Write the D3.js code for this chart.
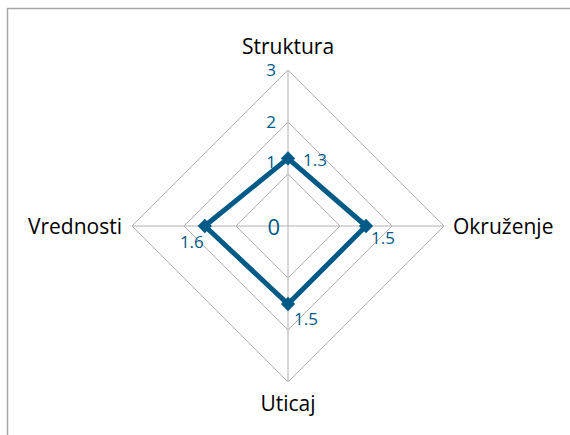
<!DOCTYPE html>
<html>
<head>
<meta charset="utf-8">
<script src="https://cdn.jsdelivr.net/npm/d3@7"></script>
<style>
  body { margin: 0; background: #fff; }
  svg { display: block; font-family: "Open Sans", sans-serif; }
</style>
</head>
<body>
<div id="chart"></div>
<script>
// radar chart data
const categories = ["Struktura", "Okruženje", "Uticaj", "Vrednosti"];
const values = [1.3, 1.5, 1.5, 1.6];
const ticks = [0, 1, 2, 3];

const width = 570;
const height = 435;
const cx = 288, cy = 226;
const radius = 156;
const blue = "#005a87";
const gridColor = "#b0b0b0";

const svg = d3.select('#chart')
    .append('svg')
    .attr('width', width)
    .attr('height', height);

// outer frame (right and bottom edges fall outside the picture)
svg.append('rect')
    .attr('x', 7.5).attr('y', 8.5)
    .attr('width', 600).attr('height', 500)
    .attr('fill', 'none')
    .attr('stroke', '#a6a6a6')
    .attr('stroke-width', 1.5);

const r = d3.scaleLinear().domain([0, 3]).range([0, radius]);
const ang = i => i * 2 * Math.PI / categories.length;
const px = (i, v) => cx + r(v) * Math.sin(ang(i));
const py = (i, v) => cy - r(v) * Math.cos(ang(i));

const g = svg.append('g');

// rings
ticks.filter(t => t > 0).forEach(t => {
    g.append('path')
        .attr('d', d3.line()(categories.map((c, i) => [px(i, t), py(i, t)])) + 'Z')
        .attr('fill', 'none')
        .attr('stroke', gridColor)
        .attr('stroke-width', 1);
});

// spokes
g.selectAll('line.spoke')
    .data(categories)
    .join('line')
    .attr('class', 'spoke')
    .attr('x1', cx).attr('y1', cy)
    .attr('x2', (d, i) => px(i, 3))
    .attr('y2', (d, i) => py(i, 3))
    .attr('stroke', gridColor)
    .attr('stroke-width', 1);

// tick labels along the top spoke
g.selectAll('text.tick')
    .data(ticks)
    .join('text')
    .attr('class', 'tick')
    .attr('x', d => d === 0 ? 280 : 276)
    .attr('y', d => d === 0 ? cy + 9 : py(0, d) + (d === 1 ? -6 : 6))
    .attr('text-anchor', 'end')
    .attr('font-size', d => d === 0 ? 22 : 17)
    .attr('fill', blue)
    .text(d => d);

// category labels
const labelPos = [
    { dx: 0, dy: -16, anchor: 'middle' },
    { dx: 9, dy: 8, anchor: 'start' },
    { dx: 0, dy: 29, anchor: 'middle' },
    { dx: -10, dy: 8, anchor: 'end' }
];
g.selectAll('text.cat')
    .data(categories)
    .join('text')
    .attr('class', 'cat')
    .attr('x', (d, i) => px(i, 3) + labelPos[i].dx)
    .attr('y', (d, i) => py(i, 3) + labelPos[i].dy)
    .attr('text-anchor', (d, i) => labelPos[i].anchor)
    .attr('font-size', 21)
    .attr('fill', '#000')
    .text(d => d);

// data polygon
g.append('path')
    .attr('d', d3.line()(values.map((v, i) => [px(i, v), py(i, v)])) + 'Z')
    .attr('fill', 'none')
    .attr('stroke', blue)
    .attr('stroke-width', 5)
    .attr('stroke-linejoin', 'miter');

g.selectAll('path.marker')
    .data(values)
    .join('path')
    .attr('class', 'marker')
    .attr('d', d3.symbol(d3.symbolDiamond2, 130))
    .attr('transform', (d, i) => `translate(${px(i, d)},${py(i, d)})`)
    .attr('fill', blue);

// value labels
const valPos = [
    { dx: 15, dy: 8, anchor: 'start' },
    { dx: 5, dy: 18, anchor: 'start' },
    { dx: 6, dy: 21, anchor: 'start' },
    { dx: -1, dy: 22, anchor: 'end' }
];
g.selectAll('text.val')
    .data(values)
    .join('text')
    .attr('class', 'val')
    .attr('x', (d, i) => px(i, d) + valPos[i].dx)
    .attr('y', (d, i) => py(i, d) + valPos[i].dy)
    .attr('text-anchor', (d, i) => valPos[i].anchor)
    .attr('font-size', 17)
    .attr('fill', blue)
    .text(d => d);
</script>
</body>
</html>
